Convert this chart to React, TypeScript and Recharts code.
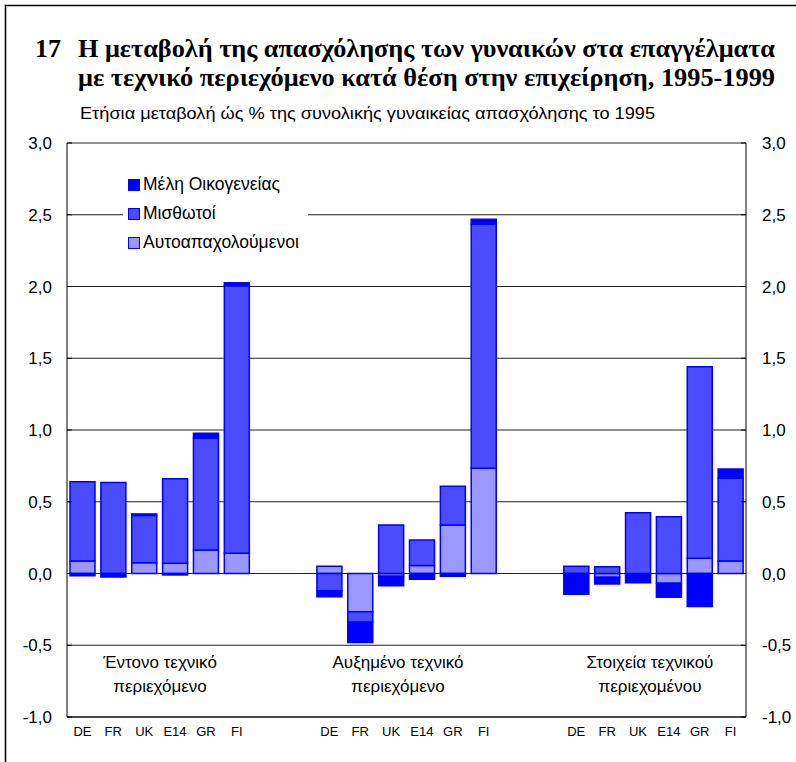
import React from 'react';
import { BarChart, Bar, XAxis, YAxis, CartesianGrid, Legend } from 'recharts';

const countries = ['DE', 'FR', 'UK', 'E14', 'GR', 'FI'];
const groupLabels = [
  ['Έντονο τεχνικό', 'περιεχόμενο'],
  ['Αυξημένο τεχνικό', 'περιεχόμενο'],
  ['Στοιχεία τεχνικού', 'περιεχομένου'],
];
const selfEmployed = [
  [0.087, 0, 0.075, 0.071, 0.164, 0.141],
  [0.05, -0.266, -0.02, 0.055, 0.338, 0.733],
  [0, -0.027, -0.005, -0.068, 0.106, 0.087],
];
const employees = [
  [0.553, 0.635, 0.33, 0.59, 0.778, 1.865],
  [-0.12, -0.074, 0.338, 0.178, 0.27, 1.7],
  [0.05, 0.047, 0.424, 0.396, 1.334, 0.576],
];
const familyMembers = [
  [-0.015, -0.025, 0.01, -0.01, 0.035, 0.02],
  [-0.042, -0.14, -0.065, -0.04, -0.02, 0.035],
  [-0.145, -0.046, -0.06, -0.098, -0.23, 0.065],
];
const majorTicks = [-1, -0.5, 0, 0.5, 1, 1.5, 2, 2.5, 3];
const minorTicks = [-0.75, -0.25, 0.25, 0.75, 1.25, 1.75, 2.25, 2.75];
const titleNumber = '17';
const titleLines = [
  'Η μεταβολή της απασχόλησης των γυναικών στα επαγγέλματα',
  'με τεχνικό περιεχόμενο κατά θέση στην επιχείρηση, 1995-1999',
];
const subtitle = 'Ετήσια μεταβολή ώς % της συνολικής γυναικείας απασχόλησης το 1995';
const seriesKeys = ['self', 'emp', 'fam'] as const;
const legendOrder = ['fam', 'emp', 'self'];
const seriesNames: Record<string, string> = { self: 'Αυτοαπαχολούμενοι', emp: 'Μισθωτοί', fam: 'Μέλη Οικογενείας' };
const seriesColors: Record<string, string> = { self: '#9999ff', emp: '#4b4bff', fam: '#0000ff' };

type Row = { key: string; label: string; self?: number; emp?: number; fam?: number };
const data: Row[] = [];
groupLabels.forEach((_, gi) => {
  if (gi > 0) {
    data.push({ key: `gap${gi}a`, label: '' });
    data.push({ key: `gap${gi}b`, label: '' });
  }
  countries.forEach((c, ci) => {
    data.push({
      key: `${gi}-${c}`,
      label: c,
      self: selfEmployed[gi][ci],
      emp: employees[gi][ci],
      fam: familyMembers[gi][ci],
    });
  });
});
const labelOf: Record<string, string> = {};
data.forEach((d) => (labelOf[d.key] = d.label));

const FONT = '"Liberation Sans", Arial, sans-serif';
const fmt = (v: number) => v.toFixed(1).replace('.', ',');

const LeftTick = (props: any) => {
  const { x, y, payload } = props;
  const ax = x + 15;
  return (
    <g>
      <line x1={ax} x2={ax + 5} y1={y} y2={y} stroke="#000" strokeWidth={1} />
      <text x={x} y={y} dy={6} textAnchor="end" fontSize={17} fontFamily={FONT} fill="#000">
        {fmt(payload.value)}
      </text>
    </g>
  );
};
const RightTick = (props: any) => {
  const { x, y, payload } = props;
  const ax = x - 16;
  return (
    <g>
      <line x1={ax - 5} x2={ax} y1={y} y2={y} stroke="#000" strokeWidth={1} />
      <text x={x} y={y} dy={6} textAnchor="start" fontSize={17} fontFamily={FONT} fill="#000">
        {fmt(payload.value)}
      </text>
    </g>
  );
};

const LegendContent = (props: any) => {
  const items = [...(props.payload || [])].sort(
    (a: any, b: any) => legendOrder.indexOf(a.dataKey) - legendOrder.indexOf(b.dataKey)
  );
  return (
    <div style={{ background: '#fff', padding: '5px 0 5px 5px', width: 180 }}>
      {items.map((it: any) => (
        <div key={it.value} style={{ display: 'flex', alignItems: 'center', height: 29, fontFamily: FONT, fontSize: 17.5, color: '#000' }}>
          <span style={{ display: 'inline-block', width: 10, height: 10, background: it.color, border: '1px solid #0000ff', marginRight: 3 }} />
          {it.value}
        </div>
      ))}
    </div>
  );
};

export default function App() {
  return (
    <div style={{ position: 'absolute', left: 0, top: 0, width: 796, height: 762, background: '#fff', overflow: 'hidden' }}>
      <BarChart
        width={796}
        height={762}
        data={data}
        margin={{ top: 143, right: 0, bottom: 0, left: 7 }}
        stackOffset="sign"
        barSize={25}
      >
        <CartesianGrid yAxisId="L" vertical={false} stroke="#222" strokeWidth={1} />
        <XAxis
          dataKey="key"
          height={45}
          interval={0}
          tickFormatter={(k: string) => labelOf[k]}
          tickLine={false}
          tickSize={0}
          tickMargin={10}
          axisLine={{ stroke: '#000' }}
          tick={{ fontSize: 13, fontFamily: FONT, fill: '#000' }}
        />
        <YAxis
          yAxisId="L"
          orientation="left"
          width={60}
          domain={[-1, 3]}
          allowDataOverflow
          ticks={majorTicks}
          type="number"
          interval={0}
          tickLine={false}
          tickSize={0}
          tickMargin={15}
          axisLine={{ stroke: '#000' }}
          tick={<LeftTick />}
        />
        <YAxis
          yAxisId="R"
          orientation="right"
          width={50}
          domain={[-1, 3]}
          allowDataOverflow
          ticks={majorTicks}
          type="number"
          interval={0}
          tickLine={false}
          tickSize={0}
          tickMargin={16}
          axisLine={{ stroke: '#000' }}
          tick={<RightTick />}
        />
        <YAxis
          yAxisId="Lm"
          orientation="left"
          mirror
          width={0}
          domain={[-1, 3]}
          allowDataOverflow
          ticks={minorTicks}
          type="number"
          interval={0}
          tick={false}
          axisLine={false}
          tickLine={{ stroke: '#000' }}
          tickSize={5}
        />
        <YAxis
          yAxisId="Rm"
          orientation="right"
          mirror
          width={0}
          domain={[-1, 3]}
          allowDataOverflow
          ticks={minorTicks}
          type="number"
          interval={0}
          tick={false}
          axisLine={false}
          tickLine={{ stroke: '#000' }}
          tickSize={5}
        />
        <Legend
          layout="vertical"
          align="center"
          verticalAlign="middle"
          content={<LegendContent />}
          wrapperStyle={{ position: 'absolute', left: 123, top: 165, width: 185 }}
        />
        {seriesKeys.map((k) => (
          <Bar
            key={k}
            yAxisId="L"
            dataKey={k}
            name={seriesNames[k]}
            stackId="a"
            fill={seriesColors[k]}
            stroke="#0000ff"
            strokeWidth={1.5}
            isAnimationActive={false}
          />
        ))}
      </BarChart>
      <svg
        width={796}
        height={762}
        style={{ position: 'absolute', left: 0, top: 0, pointerEvents: 'none' }}
      >
        <rect x={5.5} y={5.5} width={800} height={800} fill="none" stroke="#000" strokeWidth={1.5} />
        <text x={35} y={57} fontFamily='"Liberation Serif", "Times New Roman", serif' fontWeight="bold" fontSize={26} fill="#000">
          {titleNumber}
        </text>
        {titleLines.map((t, i) => (
          <text
            key={i}
            x={78}
            y={57 + i * 29}
            fontFamily='"Liberation Serif", "Times New Roman", serif'
            fontWeight="bold"
            fontSize={26}
            fill="#000"
            textLength={697}
            lengthAdjust="spacingAndGlyphs"
          >
            {t}
          </text>
        ))}
        <text x={80} y={119} fontFamily={FONT} fontSize={16} fill="#000" textLength={575} lengthAdjust="spacingAndGlyphs">
          {subtitle}
        </text>
        {groupLabels.map((g, gi) => {
          const cx = [160, 398, 650][gi];
          return (
            <g key={gi}>
              <text x={cx} y={668} textAnchor="middle" fontFamily={FONT} fontSize={17} fill="#000">
                {g[0]}
              </text>
              <text x={cx} y={692} textAnchor="middle" fontFamily={FONT} fontSize={17} fill="#000">
                {g[1]}
              </text>
            </g>
          );
        })}
      </svg>
    </div>
  );
}
